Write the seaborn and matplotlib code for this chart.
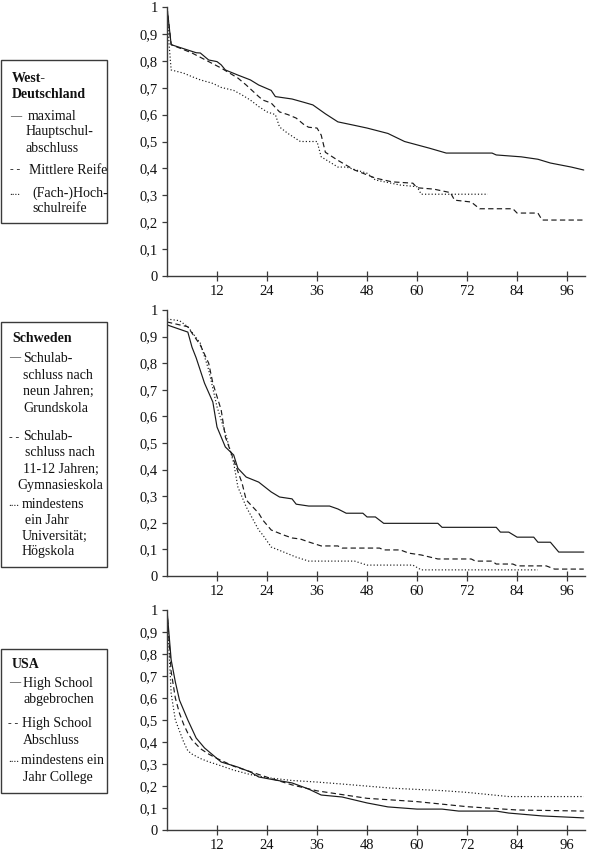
import matplotlib
matplotlib.use("Agg")
import matplotlib.pyplot as plt
import seaborn as sns
from matplotlib.patches import Rectangle
from matplotlib.ticker import FuncFormatter

# ---- Westdeutschland --------------------------------------------------
wd_haupt_m = [0, 1, 4, 7, 8, 10, 12, 13, 14, 17, 20, 22, 25, 26, 30, 33, 35, 38,
              41, 45, 48, 53, 57, 63, 67, 78, 79, 85, 89, 92, 97, 100]
wd_haupt_v = [1.0, 0.86, 0.845, 0.83, 0.829, 0.803, 0.797, 0.785, 0.766, 0.747,
              0.729, 0.71, 0.69, 0.667, 0.658, 0.645, 0.636, 0.603, 0.573, 0.56,
              0.55, 0.53, 0.50, 0.475, 0.457, 0.457, 0.45, 0.443, 0.434, 0.42,
              0.405, 0.394]

wd_mittel_m = [0, 1, 6, 10, 13, 17, 19, 22, 23, 25, 27, 29, 31, 33, 34, 36, 37, 38,
               41, 45, 50, 54, 59, 60, 64, 68, 69, 73, 75, 83, 84, 89, 90, 100]
wd_mittel_v = [1.0, 0.86, 0.829, 0.797, 0.773, 0.736, 0.71, 0.667, 0.654, 0.643,
               0.61, 0.60, 0.587, 0.561, 0.553, 0.55, 0.524, 0.46, 0.43, 0.394,
               0.364, 0.35, 0.345, 0.328, 0.323, 0.31, 0.282, 0.275, 0.25, 0.25,
               0.234, 0.234, 0.208, 0.208]

wd_hoch_m = [0, 0.5, 1, 4, 6, 8, 11, 13, 16, 18, 20, 22, 24, 26, 27, 29, 32, 36, 37,
             41, 43, 48, 50, 56, 60, 61, 77]
wd_hoch_v = [1.0, 0.86, 0.766, 0.754, 0.741, 0.729, 0.716, 0.701, 0.69, 0.673,
             0.654, 0.63, 0.61, 0.60, 0.554, 0.53, 0.50, 0.50, 0.443, 0.405,
             0.405, 0.382, 0.357, 0.338, 0.332, 0.304, 0.304]

# ---- Schweden ---------------------------------------------------------
se_grund_m = [0, 5, 6, 7, 9, 11, 12, 14, 16, 17, 19, 22, 25, 27, 30, 31, 34, 39,
              41, 43, 47, 48, 50, 52, 65, 66, 79, 80, 82, 84, 88, 89, 92, 94, 100]
se_grund_v = [0.944, 0.917, 0.86, 0.82, 0.725, 0.654, 0.56, 0.485, 0.455, 0.405,
              0.372, 0.353, 0.316, 0.297, 0.29, 0.27, 0.263, 0.263, 0.252, 0.236,
              0.236, 0.222, 0.222, 0.198, 0.198, 0.183, 0.183, 0.165, 0.165,
              0.146, 0.146, 0.127, 0.127, 0.09, 0.09]

se_gym_m = [0, 5, 6, 8, 10, 11, 13, 14, 16, 18, 19, 22, 23, 25, 28, 30, 32, 34,
            37, 41, 42, 51, 52, 56, 58, 61, 65, 73, 74, 78, 79, 83, 84, 91, 93, 100]
se_gym_v = [0.955, 0.937, 0.913, 0.868, 0.80, 0.725, 0.624, 0.523, 0.436, 0.35,
            0.286, 0.236, 0.21, 0.173, 0.154, 0.143, 0.139, 0.128, 0.113, 0.113,
            0.105, 0.105, 0.098, 0.098, 0.086, 0.079, 0.064, 0.064, 0.056,
            0.056, 0.045, 0.045, 0.038, 0.038, 0.026, 0.026]

se_uni_m = [0, 3, 5, 8, 10, 12, 14, 16, 17, 19, 22, 23, 25, 28, 31, 34, 45, 48,
            59, 61, 89]
se_uni_v = [0.966, 0.96, 0.937, 0.875, 0.775, 0.636, 0.537, 0.425, 0.335, 0.26,
            0.173, 0.154, 0.109, 0.09, 0.071, 0.056, 0.056, 0.041, 0.041, 0.023,
            0.023]

# ---- USA --------------------------------------------------------------
us_drop_m = [0, 1, 2, 3, 5, 7, 9, 11, 13, 17, 20, 22, 26, 30, 34, 37, 42, 48, 53,
             60, 66, 70, 79, 82, 90, 100]
us_drop_v = [1.0, 0.773, 0.673, 0.59, 0.50, 0.418, 0.373, 0.341, 0.309, 0.286,
             0.264, 0.241, 0.227, 0.214, 0.186, 0.159, 0.15, 0.123, 0.105, 0.095,
             0.095, 0.086, 0.086, 0.077, 0.064, 0.055]

us_abs_m = [0, 1, 2, 3, 4, 5, 6, 8, 10, 12, 16, 20, 24, 30, 36, 48, 60, 72, 84, 100]
us_abs_v = [1.0, 0.72, 0.60, 0.53, 0.48, 0.44, 0.41, 0.37, 0.345, 0.325, 0.29,
            0.265, 0.24, 0.205, 0.178, 0.144, 0.129, 0.106, 0.091, 0.086]

us_coll_m = [0, 1, 2, 3, 4, 5, 6, 8, 10, 12, 16, 20, 24, 30, 36, 42, 54, 66, 72,
             82, 100]
us_coll_v = [1.0, 0.62, 0.50, 0.45, 0.40, 0.36, 0.345, 0.325, 0.31, 0.298,
             0.272, 0.252, 0.238, 0.225, 0.218, 0.209, 0.19, 0.179, 0.171,
             0.152, 0.152]

x_ticks = [12, 24, 36, 48, 60, 72, 84, 96]
y_ticks = [0, 0.1, 0.2, 0.3, 0.4, 0.5, 0.6, 0.7, 0.8, 0.9, 1.0]

sns.set_theme(style="white")
plt.rcParams["font.family"] = ["Liberation Serif", "DejaVu Serif"]

W, H = 590, 851
fig = plt.figure(figsize=(W / 100, H / 100), dpi=100)


def fx(x):
    return x / W


def fy(y):
    return 1 - y / H


AX_COL = "#3a3a3a"
LINE_COL = "#1a1a1a"
styles = {
    "solid": dict(linestyle="-"),
    "dashed": dict(linestyle=(0, (4.5, 2.8))),
    "dotted": dict(linestyle=(0, (1.0, 1.8))),
}

panels = [
    # (top px, bottom px, series)
    (7, 276, [(wd_haupt_m, wd_haupt_v, "solid"),
              (wd_mittel_m, wd_mittel_v, "dashed"),
              (wd_hoch_m, wd_hoch_v, "dotted")]),
    (310, 576, [(se_grund_m, se_grund_v, "solid"),
                (se_gym_m, se_gym_v, "dashed"),
                (se_uni_m, se_uni_v, "dotted")]),
    (610, 830, [(us_drop_m, us_drop_v, "solid"),
                (us_abs_m, us_abs_v, "dashed"),
                (us_coll_m, us_coll_v, "dotted")]),
]


def yfmt(v, pos):
    if abs(v) < 1e-9:
        return "0"
    if abs(v - 1) < 1e-9:
        return "1"
    return f"{v:.1f}".replace(".", ",")


for top, bottom, series in panels:
    ax = fig.add_axes([fx(167), fy(bottom), (585 - 167) / W, (bottom - top) / H])
    for m, v, st in series:
        sns.lineplot(x=m, y=v, ax=ax, color=LINE_COL, lw=0.85,
                     estimator=None, sort=False, **styles[st])
    ax.set_xlim(0, 100.3)
    ax.set_ylim(0, 1)
    ax.set_xticks(x_ticks)
    ax.set_yticks(y_ticks)
    ax.yaxis.set_major_formatter(FuncFormatter(yfmt))
    for side in ["top", "right"]:
        ax.spines[side].set_visible(False)
    for side in ["left", "bottom"]:
        ax.spines[side].set_color(AX_COL)
        ax.spines[side].set_linewidth(1.0)
    ax.tick_params(axis="x", bottom=True, direction="inout", length=7, width=0.9,
                   color=AX_COL, labelsize=10.5, pad=3, labelcolor="#111111")
    ax.tick_params(axis="y", left=True, direction="out", length=3.5, width=0.9,
                   color=AX_COL, labelsize=10.5, pad=3, labelcolor="#111111")
    ax.set_xlabel("")
    ax.set_ylabel("")
    ax.patch.set_alpha(0)

# ---- Legend boxes (drawn as text, as in the original) -------------------
boxes = [(60, 223), (322, 567), (649, 793)]
for y0, y1 in boxes:
    fig.add_artist(Rectangle((fx(1), fy(y1)), 106 / W, (y1 - y0) / H,
                             transform=fig.transFigure, fill=False,
                             ec=AX_COL, lw=1.0))

# (prefix x, text x, y, prefix, text, bold)
legend_lines = [
    (None, 12, 79, "", "West-", True), (None, 12, 95, "", "Deutschland", True),
    (10, 28, 117, "—", "maximal", False), (None, 26, 132, "", "Hauptschul-", False),
    (None, 26, 148, "", "abschluss", False),
    (10, 29, 170, "- -", "Mittlere Reife", False),
    (9, 32, 193, "....", "(Fach-)Hoch-", False), (None, 32, 208, "", "schulreife", False),

    (None, 12, 338, "", "Schweden", True),
    (9, 23, 358, "—", "Schulab-", False), (None, 23, 375, "", "schluss nach", False),
    (None, 23, 391, "", "neun Jahren;", False), (None, 23, 408, "", "Grundskola", False),
    (9, 23, 437, "- -", "Schulab-", False), (None, 25, 453, "", "schluss nach", False),
    (None, 23, 469, "", "11-12 Jahren;", False), (None, 17, 485, "", "Gymnasieskola", False),
    (8, 22, 504, "....", "mindestens", False), (None, 25, 520, "", "ein Jahr", False),
    (None, 22, 536, "", "Universität;", False), (None, 22, 551, "", "Högskola", False),

    (None, 12, 665, "", "USA", True),
    (9, 23, 683, "—", "High School", False), (None, 23, 700, "", "abgebrochen", False),
    (8, 22, 723, "- -", "High School", False), (None, 23, 740, "", "Abschluss", False),
    (8, 21, 760, "....", "mindestens ein", False), (None, 23, 777, "", "Jahr College", False),
]
for px, tx, y, pre, txt, bold in legend_lines:
    if px is not None:
        fig.text(fx(px), fy(y), pre, ha="left", va="center", fontsize=8,
                 color="#111111")
    fig.text(fx(tx), fy(y), txt, ha="left", va="center", fontsize=10,
             fontweight="bold" if bold else "normal", color="#111111")

fig.savefig("out.png", dpi=100)
